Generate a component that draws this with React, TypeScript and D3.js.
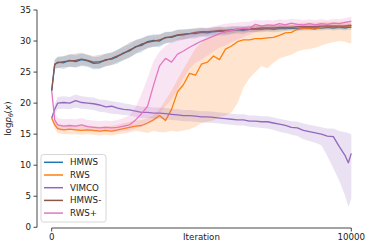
import * as d3 from "d3";

const W = 373;
const H = 248;

// iteration grid the curves were logged at
const iterations = [0, 100, ...d3.range(200, 9801, 200), 9900, 10000];

const hmws = [22.0, 26.2, 26.6, 26.5, 26.9, 26.7, 27.0, 26.8, 26.4, 26.5, 27.0, 27.1, 27.5, 28.1, 28.4, 29.1, 29.3, 29.9, 30.1, 30.0, 30.6, 30.6, 30.9, 31.0, 31.2, 31.2, 31.4, 31.3, 31.5, 31.6, 31.5, 31.7, 31.8, 31.7, 31.9, 31.9, 31.9, 32.0, 31.9, 32.0, 32.0, 32.1, 32.0, 32.1, 32.1, 32.1, 32.1, 32.2, 32.1, 32.2, 32.1, 32.2, 32.2];
const hmwsSpread = [0.3, 0.8, 0.9, 1.0, 1.0, 1.0, 1.0, 1.0, 1.0, 1.0, 1.0, 1.0, 1.1, 1.1, 1.1, 1.1, 1.1, 1.0, 1.0, 1.0, 0.9, 0.9, 0.9, 0.8, 0.8, 0.8, 0.7, 0.7, 0.7, 0.7, 0.6, 0.6, 0.6, 0.6, 0.5, 0.5, 0.5, 0.5, 0.5, 0.5, 0.4, 0.4, 0.4, 0.4, 0.4, 0.4, 0.4, 0.4, 0.4, 0.4, 0.4, 0.4, 0.4];

const hmwsMinus = [22.0, 26.3, 26.5, 26.7, 26.8, 26.9, 27.1, 26.9, 26.6, 26.7, 26.9, 27.2, 27.6, 28.0, 28.6, 29.0, 29.5, 29.8, 30.0, 30.2, 30.5, 30.7, 31.0, 31.1, 31.2, 31.4, 31.5, 31.5, 31.6, 31.7, 31.7, 31.8, 31.9, 31.9, 32.0, 32.0, 32.1, 32.1, 32.1, 32.2, 32.2, 32.2, 32.3, 32.3, 32.3, 32.3, 32.4, 32.4, 32.4, 32.4, 32.4, 32.5, 32.5];
const hmwsMinusSpread = [0.3, 0.7, 0.9, 0.9, 1.0, 1.1, 1.0, 0.9, 1.0, 1.1, 1.0, 1.0, 1.0, 1.1, 1.2, 1.1, 1.0, 1.0, 0.9, 0.9, 0.9, 0.8, 0.8, 0.8, 0.7, 0.7, 0.7, 0.6, 0.6, 0.6, 0.6, 0.6, 0.5, 0.5, 0.5, 0.5, 0.5, 0.4, 0.4, 0.4, 0.4, 0.4, 0.4, 0.4, 0.4, 0.4, 0.4, 0.4, 0.3, 0.3, 0.3, 0.3, 0.3];

const rws = [17.6, 16.5, 15.9, 15.7, 15.8, 15.7, 15.6, 15.7, 15.6, 15.5, 15.6, 15.5, 15.7, 15.9, 16.1, 16.3, 16.4, 16.8, 17.3, 18.0, 17.2, 19.0, 21.8, 23.0, 24.8, 24.5, 26.3, 26.6, 27.6, 27.0, 28.7, 29.2, 29.9, 30.2, 30.2, 30.4, 30.4, 30.5, 30.6, 30.9, 31.3, 31.4, 31.9, 32.0, 32.0, 31.9, 32.2, 32.4, 32.4, 32.3, 32.4, 32.4, 32.5];
const rwsLo = [17.2, 15.9, 15.2, 15.0, 15.0, 15.0, 14.9, 15.0, 14.9, 14.8, 14.9, 14.8, 15.0, 15.1, 15.3, 15.5, 15.4, 15.2, 15.5, 15.3, 15.3, 15.5, 15.4, 15.6, 15.8, 16.2, 16.8, 17.0, 17.2, 17.8, 18.0, 18.5, 20.0, 22.5, 24.0, 25.0, 26.0, 25.6, 26.5, 27.2, 27.5, 27.8, 28.3, 28.6, 28.7, 28.9, 29.3, 29.6, 29.8, 30.0, 29.9, 29.7, 29.6];
const rwsHi = [18.0, 17.1, 16.6, 16.4, 16.5, 16.4, 16.3, 16.4, 16.3, 16.2, 16.3, 16.3, 16.5, 16.8, 17.0, 17.2, 17.3, 17.6, 18.0, 19.0, 20.5, 22.0, 23.8, 25.5, 27.2, 28.8, 29.8, 30.4, 30.8, 31.2, 31.5, 31.8, 32.0, 32.2, 32.4, 32.5, 32.6, 32.6, 32.7, 32.8, 32.8, 32.9, 32.9, 33.0, 33.0, 33.0, 33.1, 33.1, 33.1, 33.1, 33.2, 33.2, 33.2];

const vimco = [17.6, 19.0, 20.0, 20.1, 20.0, 20.4, 20.1, 20.0, 19.9, 19.7, 19.4, 19.5, 19.2, 19.0, 18.9, 18.7, 18.5, 18.5, 18.4, 18.4, 18.3, 18.2, 18.1, 18.0, 18.0, 17.9, 17.8, 17.8, 17.7, 17.6, 17.5, 17.4, 17.3, 17.3, 17.1, 17.1, 17.0, 17.0, 16.8, 16.6, 16.4, 16.1, 16.0, 15.6, 15.4, 15.2, 15.0, 14.7, 14.6, 13.0, 11.5, 10.4, 11.9];
const vimcoLo = [17.3, 18.2, 19.0, 19.1, 19.0, 19.3, 19.1, 19.0, 18.9, 18.6, 18.5, 18.3, 18.2, 18.1, 18.0, 17.8, 17.6, 17.6, 17.5, 17.5, 17.4, 17.3, 17.2, 17.1, 17.1, 17.0, 16.9, 16.9, 16.8, 16.7, 16.6, 16.5, 16.4, 16.4, 16.2, 16.1, 16.0, 15.9, 15.7, 15.4, 15.2, 14.9, 14.7, 14.2, 13.9, 13.6, 13.2, 11.5, 9.5, 7.5, 5.0, 3.3, 4.6];
const vimcoHi = [17.9, 19.8, 21.0, 21.1, 21.0, 21.4, 21.1, 21.0, 20.9, 20.6, 20.5, 20.3, 20.2, 20.0, 19.8, 19.6, 19.4, 19.4, 19.3, 19.3, 19.2, 19.1, 19.0, 18.9, 18.9, 18.8, 18.7, 18.7, 18.6, 18.5, 18.4, 18.3, 18.2, 18.2, 18.0, 18.0, 17.9, 17.9, 17.7, 17.5, 17.3, 17.1, 17.0, 16.7, 16.5, 16.3, 16.1, 15.9, 15.9, 15.5, 15.3, 15.2, 15.0];

const rwsPlus = [22.0, 17.3, 16.5, 16.3, 16.4, 16.3, 16.5, 16.2, 16.1, 16.0, 16.1, 16.0, 16.1, 16.3, 16.5, 17.3, 18.3, 19.5, 22.9, 26.0, 27.2, 26.6, 27.9, 28.4, 29.0, 29.5, 30.0, 30.4, 30.8, 31.2, 31.5, 31.7, 31.9, 32.1, 32.0, 32.7, 32.4, 32.6, 32.5, 32.8, 32.6, 32.9, 32.7, 32.6, 32.8, 32.6, 32.8, 32.7, 32.9, 32.8, 33.0, 33.1, 33.2];
const rwsPlusLo = [21.6, 16.6, 15.7, 15.6, 15.7, 15.6, 15.7, 15.5, 15.4, 15.3, 15.4, 15.3, 15.4, 15.5, 15.6, 15.9, 16.2, 16.6, 17.2, 18.3, 19.5, 20.6, 22.0, 24.0, 25.5, 26.5, 27.0, 27.7, 28.3, 28.9, 29.3, 29.8, 30.2, 30.6, 31.0, 31.4, 31.6, 31.8, 31.8, 32.0, 31.9, 32.1, 32.0, 31.9, 32.1, 32.0, 32.1, 32.1, 32.2, 32.2, 32.3, 32.4, 32.5];
const rwsPlusHi = [22.4, 18.4, 17.6, 17.4, 17.5, 17.4, 17.6, 17.3, 17.2, 17.1, 17.2, 17.1, 17.3, 17.6, 18.0, 19.3, 21.5, 24.0, 26.8, 28.3, 29.2, 29.9, 30.4, 30.9, 31.3, 31.6, 31.9, 32.2, 32.4, 32.6, 32.8, 32.9, 33.0, 33.1, 33.1, 33.4, 33.3, 33.4, 33.3, 33.5, 33.4, 33.6, 33.5, 33.4, 33.5, 33.4, 33.5, 33.4, 33.6, 33.5, 33.7, 33.8, 33.9];

const yTicks = [0, 5, 10, 15, 20, 25, 30, 35];
const xTicks = [0, 10000];

type Pt = { it: number; v: number; lo: number; hi: number };
type Series = { name: string; color: string; pts: Pt[] };

const build = (vals: number[], lo: (i: number) => number, hi: (i: number) => number): Pt[] =>
  iterations.map((it, i) => ({ it, v: vals[i], lo: lo(i), hi: hi(i) }));

// plotting order = legend order
const series: Series[] = [
  { name: "HMWS", color: "#1f77b4", pts: build(hmws, (i) => hmws[i] - hmwsSpread[i], (i) => hmws[i] + hmwsSpread[i]) },
  { name: "RWS", color: "#ff7f0e", pts: build(rws, (i) => rwsLo[i], (i) => rwsHi[i]) },
  { name: "VIMCO", color: "#9467bd", pts: build(vimco, (i) => vimcoLo[i], (i) => vimcoHi[i]) },
  { name: "HMWS-", color: "#8c564b", pts: build(hmwsMinus, (i) => hmwsMinus[i] - hmwsMinusSpread[i], (i) => hmwsMinus[i] + hmwsMinusSpread[i]) },
  { name: "RWS+", color: "#e377c2", pts: build(rwsPlus, (i) => rwsPlusLo[i], (i) => rwsPlusHi[i]) },
];

const FONT = "DejaVu Sans";
const FS = 8.7;
const AXIS = "#333";

export default function App() {
  const x = d3.scaleLinear().domain([0, 10000]).range([51.7, 351.3]);
  const y = d3.scaleLinear().domain([0, 35]).range([227.3, 10]);

  const area = d3.area<Pt>().x((d) => x(d.it)).y0((d) => y(d.lo)).y1((d) => y(d.hi));
  const line = d3.line<Pt>().x((d) => x(d.it)).y((d) => y(d.v));

  const axisX = 37;
  const axisY = 228;

  return (
    <svg width={W} height={H} style={{ position: "absolute", left: 0, top: 0, background: "#fff" }} fontFamily={FONT}>
      {series.map((s) => (
        <g key={s.name}>
          <path d={area(s.pts) || ""} fill={s.color} fillOpacity={0.2} stroke="none" />
          <path d={line(s.pts) || ""} fill="none" stroke={s.color} strokeWidth={1.3} strokeLinejoin="round" />
        </g>
      ))}

      {/* y axis */}
      <line x1={axisX} x2={axisX} y1={y(35)} y2={y(0)} stroke={AXIS} strokeWidth={0.9} />
      {yTicks.map((t) => (
        <g key={t} transform={`translate(${axisX},${y(t)})`}>
          <line x1={-3.5} x2={0} stroke={AXIS} strokeWidth={0.9} />
          <text x={-6} dy="0.35em" textAnchor="end" fontSize={FS} fill="#222">{t}</text>
        </g>
      ))}
      <text transform={`translate(11,${y(17.5)}) rotate(-90)`} textAnchor="middle" fontSize={FS} fill="#222">
        log<tspan fontStyle="italic">p</tspan>
        <tspan fontStyle="italic" fontSize={FS * 0.7} dy={2}>θ</tspan>
        <tspan dy={-2}>(</tspan>
        <tspan fontStyle="italic">x</tspan>)
      </text>

      {/* x axis */}
      <line x1={x(0)} x2={x(10000)} y1={axisY} y2={axisY} stroke={AXIS} strokeWidth={0.9} />
      {xTicks.map((t) => (
        <g key={t} transform={`translate(${x(t)},${axisY})`}>
          <line y1={0} y2={3.5} stroke={AXIS} strokeWidth={0.9} />
          <text y={12} textAnchor="middle" fontSize={FS} fill="#222">{t}</text>
        </g>
      ))}
      <text x={(x(0) + x(10000)) / 2} y={240} textAnchor="middle" fontSize={FS} fill="#222">Iteration</text>

      {/* legend */}
      <rect x={41} y={154.5} width={65} height={67.5} rx={2.5} fill="#fff" fillOpacity={0.8} stroke="#ccc" strokeWidth={0.8} />
      {series.map((s, i) => (
        <g key={s.name} transform={`translate(44,${162.3 + i * 12.7})`}>
          <line x1={0} x2={19} stroke={s.color} strokeWidth={1.5} />
          <text x={26} dy="0.35em" fontSize={FS} fill="#222">{s.name}</text>
        </g>
      ))}
    </svg>
  );
}
